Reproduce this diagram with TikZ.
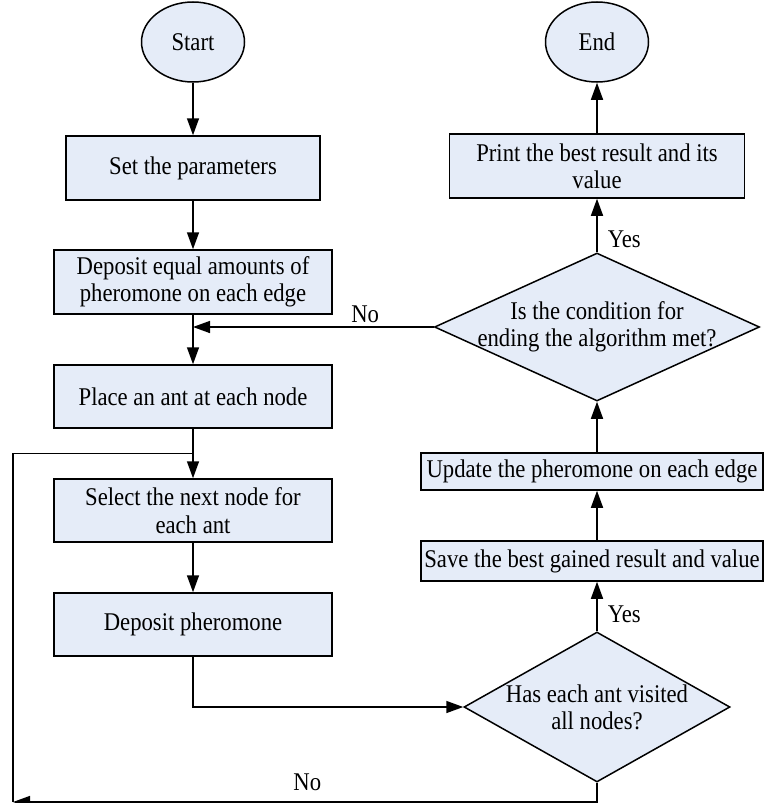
\documentclass[tikz,border=0pt]{standalone}
\usepackage{fontspec}
\setmainfont[FakeStretch=0.89]{Liberation Serif}
\usepackage{tikz}
\usetikzlibrary{arrows.meta,shapes.geometric,positioning}
\definecolor{boxfill}{RGB}{229,236,248}
\tikzstyle{flowfont}=[font=\fontsize{25.5}{27.3}\selectfont]
\tikzstyle{procstyle}=[draw=black,fill=boxfill,rectangle,line width=1.5pt,minimum width=278pt,minimum height=63pt,inner sep=2pt,align=center,flowfont]
\tikzstyle{termstyle}=[draw=black,fill=boxfill,ellipse,line width=1.5pt,minimum width=103pt,minimum height=80pt,inner sep=0pt,flowfont]
\tikzstyle{decstyle}=[draw=black,fill=boxfill,diamond,line width=1.5pt,inner sep=0pt]
\tikzstyle{dectext}=[align=center,flowfont,inner sep=0pt]

\begin{document}
\begin{tikzpicture}[x=1pt,y=-1pt,on grid,auto]
	\tikzstyle{flow}=[line width=1.5pt,-{Triangle[length=17pt,width=12pt]}]
	\tikzstyle{loopline}=[line width=1.5pt]
	\useasboundingbox (0,0) rectangle (765,803);

	% left column
	\node[termstyle]		(start) at (193,42)		{Start};
	\node[procstyle,minimum width=254pt,minimum height=64pt]	(set) [below=126pt of start]	{Set the parameters};
	\node[procstyle,minimum height=64pt]	(deq) [below=114pt of set]	{Deposit equal amounts of\\pheromone on each edge};
	\node[procstyle]		(place) [below=114.5pt of deq]	{Place an ant at each node};
	\node[procstyle]		(select) [below=114pt of place]	{Select the next node for\\each ant};
	\node[procstyle]		(dep) [below=114pt of select]	{Deposit pheromone};

	% right column
	\node[termstyle]		(end) at (597,42)		{End};
	\node[procstyle,minimum width=295pt,minimum height=64pt]	(print) [below=124pt of end]	{Print the best result and its\\value};
	\node[decstyle,minimum width=325pt,minimum height=148pt,
		label={[dectext]center:{Is the condition for\\ending the algorithm met?}}]	(cond) [below=161pt of print] {};
	\node[procstyle,minimum width=342pt,minimum height=37pt]	(update) [below=144.5pt of cond,xshift=-5pt]	{Update the pheromone on each edge};
	\node[procstyle,minimum width=342pt,minimum height=40pt]	(save) [below=89.5pt of update]	{Save the best gained result and value};
	\node[decstyle,minimum width=266pt,minimum height=150pt,
		label={[dectext]center:{Has each ant visited\\all nodes?}}]	(visit) [below=146pt of save,xshift=5pt] {};

	\coordinate (corner) at (13,802);
	\path (place.south) -- (select.north) coordinate[midway] (loopjoin);

	\draw[flow] (start) -- (set);
	\draw[flow] (set) -- (deq);
	\draw[flow] (deq) -- (place);
	\draw[flow] (place) -- (select);
	\draw[flow] (select) -- (dep);
	\draw[flow] (dep.south) |- (visit.west);
	\draw[flow] (visit.north) -- (visit.north |- save.south) node[flowfont,pos=0.35,right,inner sep=10pt] {Yes};
	\draw[flow] (save.north -| cond.south) -- (update.south -| cond.south);
	\draw[flow] (update.north -| cond.south) -- (cond.south);
	\draw[flow] (cond.north) -- (print) node[flowfont,pos=0.25,right,inner sep=10pt] {Yes};
	\draw[flow] (print) -- (end);
	\draw[flow] (cond.west) -- (cond.west -| deq.south) node[flowfont,pos=0.285,above] {No};
	\draw[flow] (visit.south) |- (corner) node[flowfont,pos=0.748,above,inner sep=11pt] {No};
	\draw[loopline] (corner) |- (loopjoin);
\end{tikzpicture}
\end{document}
